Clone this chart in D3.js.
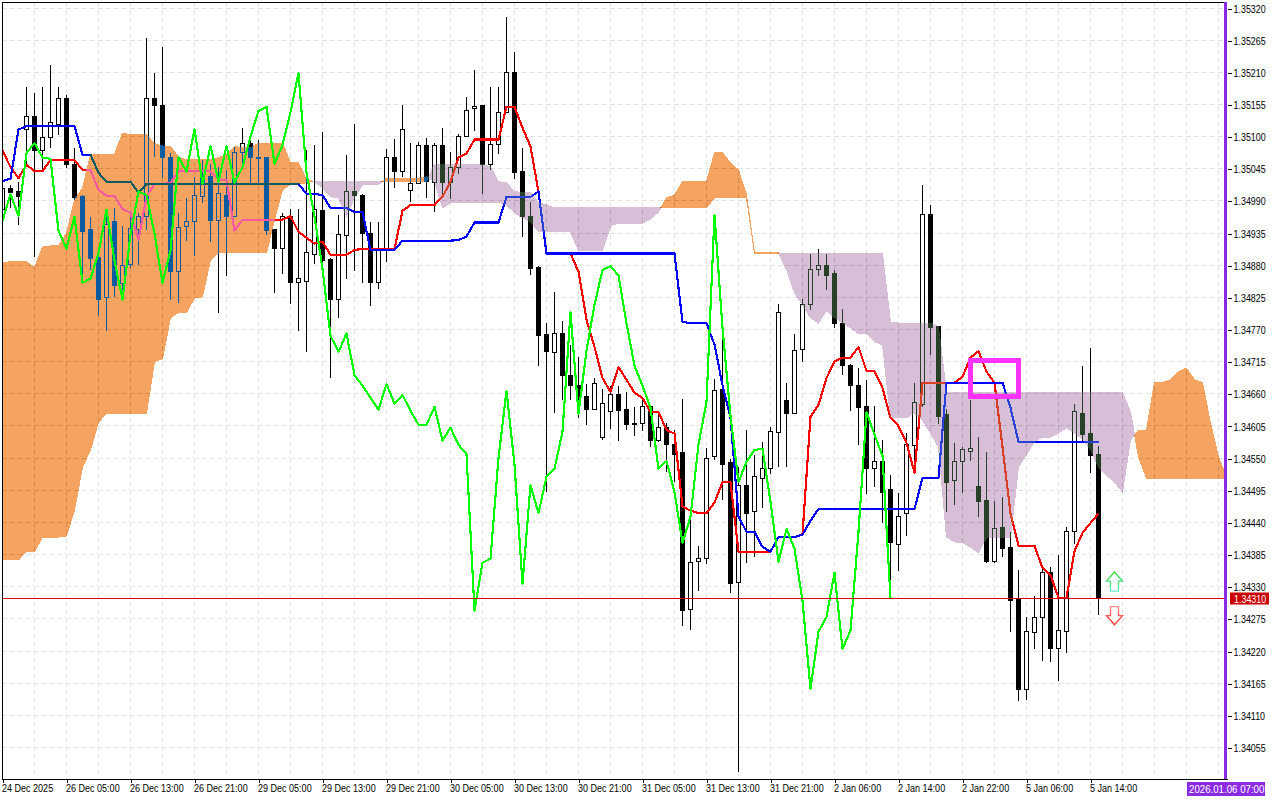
<!DOCTYPE html>
<html><head><meta charset="utf-8">
<script src="https://cdn.jsdelivr.net/npm/d3@7/dist/d3.min.js"></script>
<style>
html,body{margin:0;padding:0;background:#fff;overflow:hidden}
svg{display:block}
text{font-family:"Liberation Sans",Arial,sans-serif;font-size:11px;fill:#000}
</style></head><body>
<svg id="c" width="1280" height="800"></svg>
<script>
// All prices in points (1 point = 0.00001), one entry per hourly bar
const open=[134975,135012,135006,135112,135134,135076,135098,135120,135166,135053,
134997,134941,134893,134824,134954,134848,134881,134941,134963,135166,
135154,135065,134869,134946,134954,134997,135031,134956,135000,134964,
135072,135088,135065,135064,134941,134908,134963,134850,134853,134899,
134973,134889,134821,134930,135006,135000,134934,134850,134906,135065,
135041,135007,135019,135084,135021,135084,135021,135048,135100,135148,
135153,135053,135086,135141,135209,135041,134963,134876,134761,134730,
134763,134692,134674,134655,134633,134585,134629,134658,134633,134610,
134609,134638,134581,134602,134574,134559,134291,134374,134379,134552,
134667,134542,134337,134504,134458,134516,134532,134593,134648,134626,
134735,134812,134872,134879,134865,134781,134708,134674,134638,134532,
134544,134496,134403,134456,134571,134641,134966,134775,134624,134511,
134544,134561,134501,134477,134373,134431,134397,134308,134155,134251,
134277,134355,134224,134253,134424,134627,134592,134557];
const high=[135018,135018,135023,135185,135175,135185,135223,135185,135171,135081,
135000,134963,134906,134963,134978,134947,134963,134970,135269,135209,
135254,135072,134970,134995,135031,135060,135053,135048,135043,135082,
135115,135095,135095,135064,134942,134970,134976,134976,135077,135086,
135108,134893,134966,135069,135122,135002,134954,134954,135079,135096,
135154,135089,135091,135098,135089,135115,135074,135105,135168,135214,
135153,135185,135185,135305,135245,135081,134988,134879,134781,134834,
134785,134744,134723,134677,134687,134669,134674,134674,134663,134638,
134651,134638,134627,134610,134598,134651,134453,134400,134568,134686,
134754,134549,134535,134598,134556,134578,134603,134814,134679,134763,
134823,134899,134908,134899,134872,134805,134711,134704,134684,134639,
134581,134521,134491,134593,134679,135017,134983,134776,134634,134576,
134569,134650,134586,134561,134477,134484,134424,134359,134278,134314,
134362,134364,134385,134432,134643,134708,134739,134571];
const low=[134971,134978,134949,135052,134894,135043,135081,135103,135047,134992,
134858,134872,134793,134768,134826,134838,134875,134881,134941,135065,
135029,134821,134816,134922,134896,134987,134920,134799,134862,134964,
135055,135018,135018,134932,134833,134865,134814,134768,134732,134882,
134869,134687,134790,134857,134870,134850,134811,134840,134886,135012,
135031,134988,135019,134995,134971,135000,134994,135036,135100,135110,
135002,135043,135071,135141,135028,134929,134864,134708,134492,134627,
134650,134650,134619,134607,134633,134581,134600,134580,134598,134588,
134597,134569,134578,134527,134509,134263,134256,134323,134369,134547,
134479,134320,134013,134371,134381,134465,134523,134535,134535,134626,
134715,134804,134862,134838,134773,134692,134631,134573,134489,134501,
134439,134340,134357,134417,134527,134638,134727,134609,134458,134470,
134491,134545,134450,134371,134371,134381,134253,134135,134137,134224,
134203,134202,134169,134217,134403,134580,134525,134282];
const close=[135012,135004,134997,135134,135077,135098,135124,135166,135052,134995,
134937,134891,134821,134949,134846,134879,134942,134963,135165,135153,
135064,134869,134944,134954,134999,135031,134956,135002,134964,135072,
135089,135064,135062,134939,134908,134963,134850,134857,134901,134975,
134888,134821,134932,135006,135000,134934,134850,134905,135065,135040,
135113,135019,135084,135023,135084,135021,135048,135100,135144,135151,
135053,135086,135142,135209,135038,134963,134874,134759,134732,134763,
134692,134674,134653,134633,134677,134643,134658,134631,134607,134607,
134638,134580,134602,134573,134557,134289,134371,134378,134550,134665,
134539,134335,134504,134456,134518,134532,134595,134799,134626,134734,
134812,134872,134879,134862,134781,134708,134674,134636,134532,134545,
134492,134405,134450,134573,134646,134966,134773,134622,134509,134544,
134564,134566,134475,134373,134429,134395,134306,134155,134253,134278,
134354,134224,134255,134424,134629,134590,134554,134310];
// Tenkan-sen (red)
const tenkan=[135076,135048,135029,135052,135041,135041,135060,135060,135060,135060,
135043,135043,135009,134999,134999,134976,134970,134923,134997,135019,
135019,135021,135041,135041,135041,135041,135041,135026,135026,134939,
134958,134958,134958,134958,134958,134958,134964,134937,134927,134917,
134920,134898,134898,134898,134906,134908,134908,134908,134908,134908,
134973,134983,134983,134983,134983,134997,135023,135064,135071,135095,
135095,135095,135095,135151,135151,135115,135083,135006,134900,134900,
134900,134900,134869,134787,134740,134687,134663,134706,134684,134662,
134653,134629,134629,134598,134592,134467,134460,134456,134456,134474,
134509,134509,134390,134390,134390,134390,134390,134415,134415,134415,
134419,134621,134641,134687,134715,134722,134722,134740,134699,134699,
134670,134619,134605,134576,134525,134679,134679,134679,134679,134679,
134689,134722,134733,134698,134679,134569,134456,134400,134400,134400,
134362,134350,134311,134311,134391,134422,134439,134455];
// Kijun-sen (blue)
const kijun=[135024,135028,135112,135118,135118,135118,135118,135118,135118,135118,
135069,135069,135038,135023,135023,135023,135023,135004,135019,135019,
135019,135019,135019,135019,135019,135019,135019,135019,135019,135019,
135019,135019,135019,135019,135019,135019,135019,135019,135002,135002,
135000,134978,134978,134978,134971,134971,134906,134906,134906,134906,
134922,134922,134922,134922,134922,134922,134922,134923,134929,134953,
134953,134953,134953,134997,134997,134997,134997,135006,134900,134900,
134900,134900,134900,134900,134900,134900,134900,134900,134900,134900,
134900,134900,134900,134900,134900,134783,134781,134781,134781,134744,
134675,134619,134450,134424,134424,134398,134390,134415,134415,134415,
134419,134443,134463,134463,134463,134463,134463,134463,134463,134463,
134463,134463,134463,134463,134463,134516,134516,134516,134679,134679,
134679,134679,134679,134679,134679,134679,134636,134578,134578,134578,
134578,134578,134578,134578,134578,134578,134578,134578];
// Chikou span (green): closing prices plotted 26 bars back
const chikou=close.slice(26);
// Senkou spans, plotted 26 bars ahead (bar 0 .. 153)
const senkouA=[134884,134886,134887,134886,134876,134911,134913,134913,134935,134992,
135012,135069,135070,135070,135070,135106,135103,135103,135103,135088,
135084,135083,135065,135060,135060,135060,135060,135064,135069,135083,
135081,135081,135089,135089,135089,135089,135055,135055,135026,135023,
135012,134997,134995,134964,134995,135018,135018,135018,135029,135029,
135029,135029,135029,135031,135023,134978,134987,134987,134987,134987,
134987,134987,134988,134983,134970,134961,134954,134937,134937,134937,
134937,134937,134905,134905,134905,134905,134947,134952,134952,134952,
134952,134959,134971,134995,135000,135023,135023,135023,135023,135072,
135072,135055,135043,135000,134901,134901,134901,134901,134872,134833,
134812,134790,134781,134802,134790,134781,134773,134763,134763,134749,
134744,134619,134619,134619,134627,134615,134593,134569,134415,134407,
134405,134398,134388,134414,134414,134414,134415,134535,134556,134578,
134586,134586,134593,134602,134593,134583,134564,134535,134521,134509,
134492,134581,134597,134597,134679,134679,134684,134698,134704,134684,
134679,134610,134552,134517];
const senkouB=[134376,134376,134376,134390,134390,134415,134415,134415,134417,134461,
134535,134564,134612,134626,134626,134626,134626,134626,134627,134715,
134720,134790,134799,134799,134824,134826,134889,134901,134901,134901,
134901,134901,134901,134901,134958,135009,135018,135019,135021,135024,
135024,135024,135024,135024,135024,135024,135024,135024,135023,135023,
135023,135023,135023,135023,135053,135053,135053,135053,135053,135053,
135053,135048,135023,135021,135006,135004,135004,134987,134983,134978,
134978,134978,134978,134978,134978,134978,134978,134978,134978,134978,
134978,134978,134978,134978,134978,134978,134978,134978,134978,134995,
134995,134995,134995,134995,134900,134900,134900,134900,134900,134900,
134900,134900,134900,134900,134900,134900,134900,134900,134900,134900,
134900,134783,134781,134781,134781,134781,134781,134775,134662,134662,
134662,134662,134662,134662,134662,134662,134662,134662,134662,134662,
134662,134662,134662,134662,134662,134662,134662,134662,134662,134662,
134662,134629,134552,134516,134516,134516,134516,134516,134516,134516,
134516,134516,134516,134516];
const priceTicks=[135320,135265,135210,135155,135100,135045,134990,134935,134880,134825,134770,134715,134660,134605,134550,134495,134440,134385,134330,134275,134220,134165,134110,134055];
const timeLabels=["24 Dec 2025","26 Dec 05:00","26 Dec 13:00","26 Dec 21:00","29 Dec 05:00","29 Dec 13:00","29 Dec 21:00","30 Dec 05:00","30 Dec 13:00","30 Dec 21:00","31 Dec 05:00","31 Dec 13:00","31 Dec 21:00","2 Jan 06:00","2 Jan 14:00","2 Jan 22:00","5 Jan 06:00","5 Jan 14:00"];
const lastPrice=134310, lastPriceLabel="1.34310", cursorTime="2026.01.06 07:00";
const boxBars=[121,127], boxPrices=[134717,134656];
const arrowBar=139, arrowUpPrice=134355, arrowDownPrice=134296;

const x=d3.scaleLinear().domain([0,100]).range([2.5,802.5]);
const y=d3.scaleLinear().domain([135320,134055]).range([8,747.5]);
const px=v=>Math.round(y(v)-.5)+.5;
const L=2,R=1224,T=2,B=779;
const svg=d3.select("#c");
svg.append("rect").attr("width",1280).attr("height",800).attr("fill","#fff");
svg.append("defs").append("clipPath").attr("id","plot").append("rect").attr("x",L).attr("y",T).attr("width",R-L).attr("height",B-T);
const defs=svg.select("defs");
function grad(id,a,b){const g=defs.append("linearGradient").attr("id",id).attr("x1",0).attr("x2",0).attr("y1",0).attr("y2",1);
 g.append("stop").attr("offset",0).attr("stop-color",a);g.append("stop").attr("offset",1).attr("stop-color",b);}
grad("gUp","#30d830","#70e8c8");grad("gDn","#ff9090","#ff2020");

const plot=svg.append("g").attr("clip-path","url(#plot)").style("isolation","isolate");
plot.append("rect").attr("x",L).attr("y",T).attr("width",R-L).attr("height",B-T).attr("fill","#fff");

// grid
const grid=plot.append("g").attr("stroke","#e4e4e4").attr("stroke-dasharray","5 3").attr("shape-rendering","crispEdges");
grid.selectAll("line.h").data(priceTicks).join("line").attr("class","h").attr("x1",L).attr("x2",R).attr("y1",d=>px(d)).attr("y2",d=>px(d));
grid.selectAll("line.v").data(d3.range(4,153,4)).join("line").attr("class","v").attr("x1",d=>x(d)).attr("x2",d=>x(d)).attr("y1",T).attr("y2",B);

// candles
const bars=d3.range(open.length);
const cg=plot.append("g").attr("shape-rendering","crispEdges");
cg.selectAll("line").data(bars).join("line").attr("x1",d=>x(d)).attr("x2",d=>x(d)).attr("y1",d=>y(high[d])).attr("y2",d=>y(low[d])).attr("stroke","#000");
cg.selectAll("rect").data(bars).join("rect").each(function(d){
  const up=close[d]>=open[d], t=px(Math.max(open[d],close[d])), b=px(Math.min(open[d],close[d]));
  if(up) d3.select(this).attr("x",x(d)-2).attr("width",4).attr("y",t).attr("height",Math.max(b-t,1)).attr("fill","#fff").attr("stroke","#000");
  else d3.select(this).attr("x",x(d)-2.5).attr("width",5).attr("y",t-.5).attr("height",Math.max(b-t+1,2)).attr("fill","#000");
});

// tenkan / kijun under the cloud
const line=d3.line().x((d,i)=>x(i)).y(d=>y(d));
const stroke2=(sel,c)=>sel.attr("fill","none").attr("stroke",c).attr("stroke-width",2.15).attr("shape-rendering","crispEdges").attr("stroke-linejoin","round");
stroke2(plot.append("path").attr("d",line(tenkan)),"#ff0000");
stroke2(plot.append("path").attr("d",line(kijun)),"#0000ff");

// cloud, blended so what lies under it shows inverted
const pts=[];
senkouA.forEach((a,i)=>{const b=senkouB[i];pts.push({k:i,a,b});
  if(i<senkouA.length-1){const a1=senkouA[i+1],b1=senkouB[i+1];
    if((a-b)*(a1-b1)<0){const t=(a-b)/((a-b)-(a1-b1));const v=a+t*(a1-a);pts.push({k:i+t,a:v,b:v});}}});
const area=d3.area().x(d=>x(d.k)).y0(d=>y(d.a)).y1(d=>y(d.b));
const cloud=(def,c)=>plot.append("path").attr("d",area.defined(def)(pts)).attr("fill",c).attr("stroke",c).attr("stroke-width",1)
  .attr("shape-rendering","crispEdges").style("mix-blend-mode","difference");
cloud(d=>d.a>=d.b,"#0b5b9f");
cloud(d=>d.a<=d.b,"#274027");

// chikou above the cloud
stroke2(plot.append("path").attr("d",line(chikou)),"#00ff00");

// last price line
plot.append("line").attr("x1",L).attr("x2",R).attr("y1",px(lastPrice)).attr("y2",px(lastPrice)).attr("stroke","#dd0000").attr("shape-rendering","crispEdges");

// highlighted box
plot.append("rect").attr("x",x(boxBars[0])).attr("y",y(boxPrices[0])).attr("width",x(boxBars[1])-x(boxBars[0])).attr("height",y(boxPrices[1])-y(boxPrices[0]))
  .attr("fill","none").attr("stroke","#ff33ff").attr("stroke-width",5).attr("shape-rendering","crispEdges");

// arrows
plot.append("path").attr("transform",`translate(${x(arrowBar)},${y(arrowUpPrice)})`).attr("d","M0,0L8,9H4V19H-4V9H-8Z").attr("fill","#fff").attr("stroke","url(#gUp)").attr("stroke-width",1.4);
plot.append("path").attr("transform",`translate(${x(arrowBar)},${y(arrowDownPrice)})`).attr("d","M0,18L8,9H4V0H-4V9H-8Z").attr("fill","#fff").attr("stroke","url(#gDn)").attr("stroke-width",1.4);

// frame
const frame=svg.append("g").attr("stroke","#000").attr("shape-rendering","crispEdges");
frame.append("line").attr("x1",L+.5).attr("x2",L+.5).attr("y1",T).attr("y2",B);
frame.append("line").attr("x1",L).attr("x2",R).attr("y1",T+.5).attr("y2",T+.5);
frame.append("line").attr("x1",L).attr("x2",R+4).attr("y1",B+.5).attr("y2",B+.5);

// axes
const squeeze=(sel,f)=>sel.each(function(){const w=this.getComputedTextLength();this.setAttribute("textLength",w*f);this.setAttribute("lengthAdjust","spacingAndGlyphs");});
const ya=svg.append("g").attr("transform","translate(1227.5,0)").attr("shape-rendering","crispEdges")
  .call(d3.axisRight(d3.scaleLinear().domain(y.domain()).range([8.5,748])).tickValues(priceTicks).tickSize(4).tickPadding(2).tickFormat(d=>(d/1e5).toFixed(5)));
ya.select(".domain").remove();
ya.selectAll("text").attr("font-family",null).attr("font-size",null).style("font-size","11px").style("font-family",'"Liberation Sans"');
squeeze(ya.selectAll("text"),.81);
const xa=svg.append("g").attr("transform",`translate(0,${B})`).attr("shape-rendering","crispEdges")
  .call(d3.axisBottom(x).tickValues(timeLabels.map((d,i)=>i*8)).tickSize(4).tickPadding(1).tickFormat((d,i)=>timeLabels[i]));
xa.select(".domain").remove();
xa.selectAll("text").attr("text-anchor","start").attr("dx","-1").style("font-size","11px").style("font-family",'"Liberation Sans"');
squeeze(xa.selectAll("text"),.82);
xa.selectAll("line").attr("stroke","#000");

// violet right edge
svg.append("rect").attr("x",R).attr("y",T).attr("width",3).attr("height",B-T).attr("fill","#8a2be2");

// last price tag
const tagY=px(lastPrice);
svg.append("rect").attr("x",1230).attr("y",tagY-6).attr("width",39).attr("height",12).attr("fill","#c80000");
const lt=svg.append("text").attr("x",1234).attr("y",tagY+4).text(lastPriceLabel).style("fill","#fff");
squeeze(lt,.81);
// cursor time tag
svg.append("rect").attr("x",1187).attr("y",782).attr("width",78).attr("height",14).attr("fill","#8a2be2");
const ct=svg.append("text").attr("x",1189).attr("y",793).text(cursorTime).style("fill","#fff");
squeeze(ct,.88);
</script>
</body></html>
